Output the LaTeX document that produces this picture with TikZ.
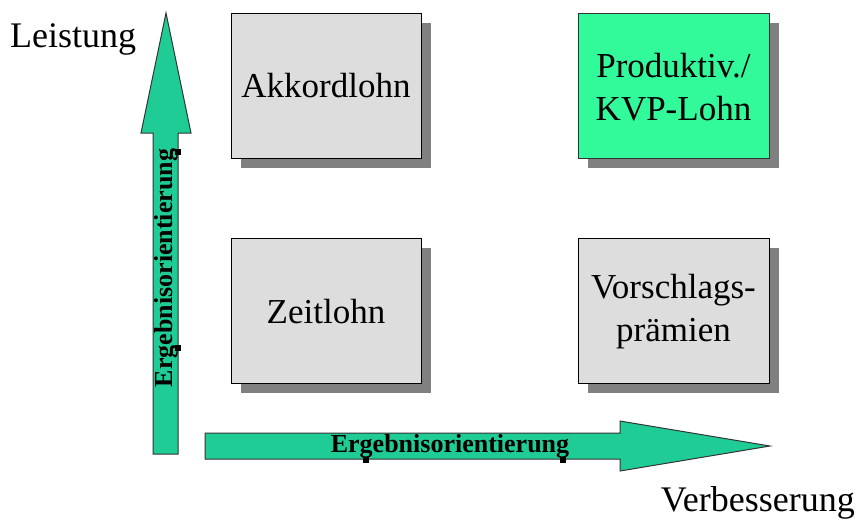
\documentclass[tikz,border=0pt]{standalone}
\usepackage{fontspec}
\setmainfont{Liberation Serif}
\begin{document}
\begin{tikzpicture}[x=1pt,y=-1pt,
  arrowfill/.style={draw=black!80,line width=1pt,fill=arrowgreen},
  boxshadow/.style={fill=shadowgrey,draw=none},
  greybox/.style={draw=black,line width=1pt,fill=boxgrey},
  greenbox/.style={draw=black!80,line width=1pt,fill=boxgreen},
  boxtext/.style={font=\fontsize{35}{43}\selectfont,align=center,text=black},
  axistext/.style={font=\fontsize{36}{40}\selectfont,text=black},
  arrowlabel/.style={font=\bfseries\fontsize{26}{30}\selectfont,inner sep=0pt},
  handle/.style={fill=black,draw=none}]
\definecolor{arrowgreen}{RGB}{32,204,150}
\definecolor{boxgreen}{RGB}{50,250,155}
\definecolor{boxgrey}{RGB}{221,221,221}
\definecolor{shadowgrey}{RGB}{128,128,128}
\useasboundingbox (0,0) rectangle (858,523);
% shadows
\fill[boxshadow] (241,23) rectangle (431,168);
\fill[boxshadow] (588,23) rectangle (779,168);
\fill[boxshadow] (241,248) rectangle (431,393);
\fill[boxshadow] (588,248) rectangle (779,393);
% boxes
\draw[greybox] (231,13) rectangle (421,158);
\draw[greenbox] (578,13) rectangle (769,158);
\draw[greybox] (231,238) rectangle (421,383);
\draw[greybox] (578,238) rectangle (769,383);
\node[boxtext] (akk) at (326,86) {Akkordlohn};
\node[boxtext] (prod) at (673.5,87) {Produktiv./\\KVP-Lohn};
\node[boxtext] (zeit) at (326,312) {Zeitlohn};
\node[boxtext] (vor) at (673.5,312) {Vorschlags-\\prämien};
% arrows
\draw[arrowfill] (153,454) -- (153,133) -- (141,133) -- (166,13) -- (191,133) -- (178,133) -- (178,454) -- cycle;
\draw[arrowfill] (205,433) -- (620,433) -- (620,421) -- (770,446) -- (620,471) -- (620,459) -- (205,459) -- cycle;
\node[arrowlabel,rotate=90] (vlab) at (166,268) {Ergebnisorientierung};
\node[arrowlabel] (hlab) at (450,446) {Ergebnisorientierung};
% selection handles
\fill[handle] (175,149) rectangle (181,155);
\fill[handle] (175,345) rectangle (181,351);
\fill[handle] (363,457) rectangle (369,463);
\fill[handle] (560,457) rectangle (566,463);
% axis labels
\node[axistext,anchor=base west,inner sep=0pt] (leist) at (10,47) {Leistung};
\node[axistext,anchor=base east,inner sep=0pt] (verb) at (855,511) {Verbesserung};
\end{tikzpicture}
\end{document}
